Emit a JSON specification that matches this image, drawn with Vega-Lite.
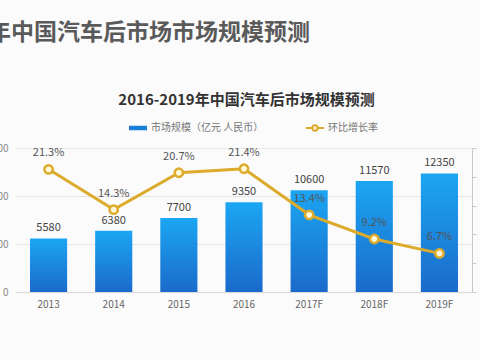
{
  "$schema": "https://vega.github.io/schema/vega-lite/v6.json",
  "width": 456,
  "height": 144,
  "autosize": {"type": "none"},
  "padding": {"left": 16, "top": 148, "right": 8, "bottom": 68},
  "background": "#fbfbfb",
  "config": {"font": "Noto Sans CJK SC", "view": {"stroke": null}},
  "title": {
    "text": "2016-2019年中国汽车后市场市场规模预测",
    "anchor": "end",
    "frame": "group",
    "dx": -162,
    "offset": 29,
    "baseline": "alphabetic",
    "fontSize": 23,
    "fontWeight": "bold",
    "color": "#5a5a5a"
  },
  "data": {
    "values": [
      {"year": "2013", "value": 5580, "rate": 0.213},
      {"year": "2014", "value": 6380, "rate": 0.143},
      {"year": "2015", "value": 7700, "rate": 0.207},
      {"year": "2016", "value": 9350, "rate": 0.214},
      {"year": "2017F", "value": 10600, "rate": 0.134},
      {"year": "2018F", "value": 11570, "rate": 0.092},
      {"year": "2019F", "value": 12350, "rate": 0.067}
    ]
  },
  "encoding": {
    "x": {
      "field": "year",
      "type": "ordinal",
      "sort": null,
      "scale": {"paddingInner": 0.43, "paddingOuter": 0.215},
      "axis": {
        "title": null,
        "labelAngle": 0,
        "ticks": false,
        "labelPadding": 7,
        "labelFontSize": 10,
        "labelColor": "#666666",
        "domainColor": "#d8d8d8",
        "grid": false
      }
    }
  },
  "layer": [
    {
      "encoding": {
        "y": {
          "field": "value",
          "type": "quantitative",
          "scale": {"domain": [0, 15000]},
          "axis": {
            "values": [0, 5000, 10000, 15000],
            "format": "d",
            "grid": true,
            "gridColor": "#e6e6e6",
            "ticks": false,
            "domain": false,
            "labelPadding": 8,
            "labelFontSize": 10,
            "labelColor": "#888888",
            "title": "2016-2019年中国汽车后市场规模预测",
            "titleAngle": 0,
            "titleX": 230,
            "titleY": -44,
            "titleAlign": "center",
            "titleBaseline": "alphabetic",
            "titleFontSize": 15,
            "titleFontWeight": "bold",
            "titleColor": "#333333"
          }
        }
      },
      "layer": [
        {
          "mark": {
            "type": "bar",
            "fill": {
              "gradient": "linear",
              "x1": 0, "y1": 0, "x2": 0, "y2": 1,
              "stops": [
                {"offset": 0, "color": "#1ba6f3"},
                {"offset": 1, "color": "#1b6acb"}
              ]
            }
          }
        },
        {
          "mark": {"type": "bar", "opacity": 0},
          "encoding": {
            "fill": {
              "datum": "市场规模（亿元 人民币）",
              "type": "nominal",
              "scale": {"range": ["#1a7fd8"]},
              "legend": {
                "orient": "none",
                "legendX": 112,
                "legendY": -30,
                "title": null,
                "padding": 0,
                "symbolType": "M-1,-0.25H1V0.25H-1Z",
                "symbolSize": 324,
                "symbolOpacity": 1,
                "labelFontSize": 10,
                "labelColor": "#777777",
                "labelOffset": 3
              }
            }
          }
        },
        {
          "mark": {"type": "text", "baseline": "bottom", "dy": -5, "fontSize": 11, "color": "#444444"},
          "encoding": {"text": {"field": "value", "type": "quantitative", "format": "d"}}
        }
      ]
    },
    {
      "encoding": {
        "y": {
          "field": "rate",
          "type": "quantitative",
          "scale": {"domain": [0, 0.25]},
          "axis": {
            "orient": "right",
            "values": [0, 0.05, 0.1, 0.15, 0.2, 0.25],
            "format": ".0%",
            "grid": false,
            "domainColor": "#c8c8c8",
            "tickColor": "#c8c8c8",
            "tickSize": 4,
            "labelPadding": 12,
            "labelFontSize": 10,
            "labelColor": "#888888",
            "title": null
          }
        }
      },
      "layer": [
        {
          "mark": {
            "type": "line",
            "strokeWidth": 3,
            "point": {"filled": true, "fill": "#fff8d8", "strokeWidth": 2.5, "size": 70}
          },
          "encoding": {
            "stroke": {
              "datum": "环比增长率",
              "type": "nominal",
              "scale": {"range": ["#dcab2b"]},
              "legend": {
                "orient": "none",
                "legendX": 289,
                "legendY": -30,
                "title": null,
                "padding": 0,
                "symbolType": "M-1,0H-0.3M0.3,0H1M0.3,0A0.3,0.3,0,1,1,-0.3,0A0.3,0.3,0,1,1,0.3,0",
                "symbolSize": 324,
                "symbolStrokeWidth": 2,
                "symbolFillColor": "#fff8d8",
                "symbolOpacity": 1,
                "labelFontSize": 10,
                "labelColor": "#777777",
                "labelOffset": 3
              }
            }
          }
        },
        {
          "mark": {"type": "text", "baseline": "bottom", "dy": -11, "fontSize": 11, "color": "#555555"},
          "encoding": {"text": {"field": "rate", "type": "quantitative", "format": ".1%"}}
        }
      ]
    }
  ],
  "resolve": {"scale": {"y": "independent", "fill": "independent", "stroke": "independent"}}
}
